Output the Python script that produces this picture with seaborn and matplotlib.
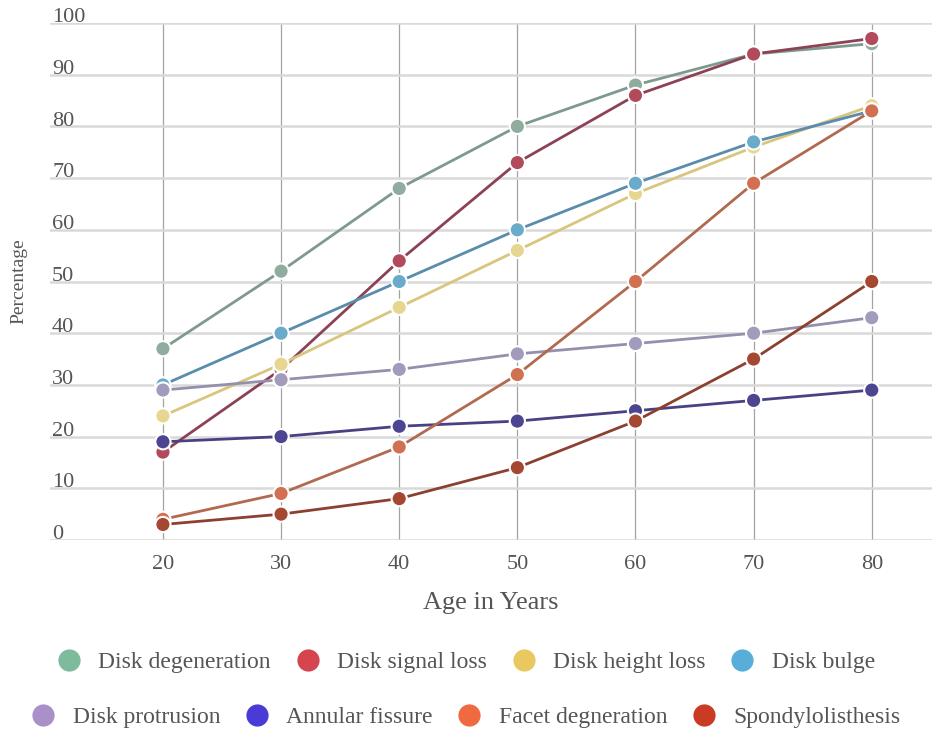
import matplotlib
matplotlib.use("Agg")
import matplotlib.pyplot as plt
import matplotlib.transforms as mtransforms
from matplotlib.lines import Line2D
import seaborn as sns
import pandas as pd

# Prevalence of spinal findings by age (percent)
ages = [20, 30, 40, 50, 60, 70, 80]
conditions = ["Disk degeneration", "Disk signal loss", "Disk height loss", "Disk bulge",
              "Disk protrusion", "Annular fissure", "Facet degneration", "Spondylolisthesis"]
disk_degeneration = [37, 52, 68, 80, 88, 94, 96]
disk_signal_loss = [17, 33, 54, 73, 86, 94, 97]
disk_height_loss = [24, 34, 45, 56, 67, 76, 84]
disk_bulge = [30, 40, 50, 60, 69, 77, 83]
disk_protrusion = [29, 31, 33, 36, 38, 40, 43]
annular_fissure = [19, 20, 22, 23, 25, 27, 29]
facet_degeneration = [4, 9, 18, 32, 50, 69, 83]
spondylolisthesis = [3, 5, 8, 14, 23, 35, 50]
y_ticks = [0, 10, 20, 30, 40, 50, 60, 70, 80, 90, 100]

series = [disk_degeneration, disk_signal_loss, disk_height_loss, disk_bulge,
          disk_protrusion, annular_fissure, facet_degeneration, spondylolisthesis]

legend_colors = ["#7dbb9c", "#d6444f", "#e9c95f", "#58aed9",
                 "#a990c9", "#4a3bd6", "#ef6a40", "#c93b22"]
marker_colors = ["#8fac9e", "#b24a5c", "#e6d690", "#6aaacb",
                 "#a39bbb", "#4b4592", "#d27052", "#a44832"]
line_colors = ["#7e9a90", "#8c4254", "#d8c57e", "#5a8cab",
               "#958fae", "#4a4183", "#b16a4f", "#8c4130"]

df = pd.DataFrame(
    [(c, a, v) for c, vals in zip(conditions, series) for a, v in zip(ages, vals)],
    columns=["condition", "age", "pct"],
)

sns.set_theme(style="white")
plt.rcParams["font.family"] = ["Liberation Serif", "DejaVu Serif"]
text_color = "#555555"

fig = plt.figure(figsize=(9.32, 7.32), dpi=100)
ax = fig.add_axes([50 / 932, 1 - 540 / 732, 1 - 50 / 932, (540 - 23) / 732])

sns.lineplot(data=df, x="age", y="pct", hue="condition", hue_order=conditions,
             palette=line_colors, linewidth=2.0, legend=False, ax=ax, zorder=2)
sns.scatterplot(data=df, x="age", y="pct", hue="condition", hue_order=conditions,
                palette=marker_colors, s=120, edgecolor="white", linewidth=1.5,
                legend=False, ax=ax, zorder=3, clip_on=False)

ax.set_xlim(10.44, 85.1)
ax.set_ylim(0, 100)
ax.set_xticks(ages)
ax.set_yticks(y_ticks)
ax.set_axisbelow(True)
ax.grid(axis="y", color="#d9d9d9", linewidth=1.8)
ax.grid(axis="x", color="#a3a3a3", linewidth=0.9)
for s in ax.spines.values():
    s.set_visible(False)

ax.tick_params(axis="x", length=0, pad=11, labelsize=16, labelcolor=text_color)
ax.tick_params(axis="y", length=0, pad=-1.5, labelsize=16, labelcolor=text_color)
offset = mtransforms.ScaledTranslation(0, -3 / 72, fig.dpi_scale_trans)
for lbl in ax.get_yticklabels():
    lbl.set_horizontalalignment("left")
    lbl.set_verticalalignment("bottom")
    lbl.set_transform(lbl.get_transform() + offset)

ax.set_xlabel("Age in Years", fontsize=19, color=text_color, labelpad=13)
ax.set_ylabel("Percentage", fontsize=14, color=text_color)
ax.yaxis.set_label_coords(-23 / 882, 0.5)

handles = [Line2D([], [], linestyle="none", marker="o", markersize=16,
                  markerfacecolor=c, markeredgecolor="none", label=n)
           for c, n in zip(legend_colors, conditions)]
leg_kw = dict(loc="center", ncol=4, frameon=False, fontsize=17,
              handlelength=1.0, handletextpad=0.75, columnspacing=1.05,
              labelcolor=text_color)
fig.legend(handles=handles[:4], bbox_to_anchor=(0.5, 1 - 662 / 732), **leg_kw)
fig.legend(handles=handles[4:], bbox_to_anchor=(0.5, 1 - 717 / 732), **leg_kw)

fig.savefig("out.png", dpi=100, facecolor="white")
